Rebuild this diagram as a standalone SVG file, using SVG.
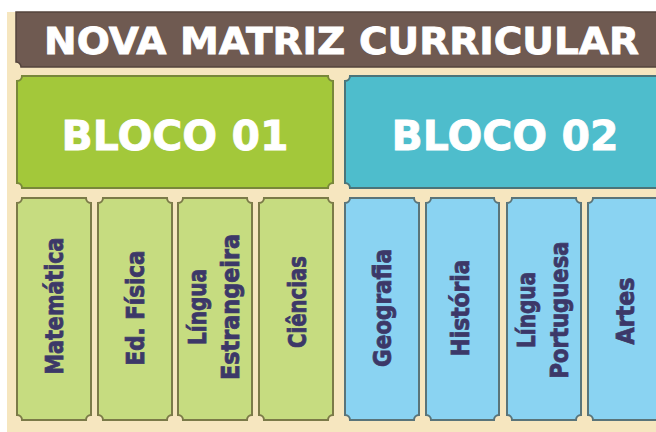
<svg xmlns="http://www.w3.org/2000/svg" width="656" height="432" viewBox="0 0 656 432">
<style>
.bg{fill:#f6e6bf}
.title{fill:#6f5a51;stroke:#54443c;stroke-width:1.5}
.b1{fill:#a3c83a;stroke:#78873a;stroke-width:2}
.b2{fill:#4ebdcc;stroke:#4b7479;stroke-width:2}
.s1{fill:#c6dc80;stroke:#7b7a48;stroke-width:2}
.s2{fill:#8ad3f2;stroke:#5a7479;stroke-width:2}
.tt{fill:#ffffff;stroke:#ffffff;stroke-width:0.8;font-family:"DejaVu Sans",sans-serif;font-weight:bold;font-size:37px}
.bt{fill:#ffffff;stroke:#ffffff;stroke-width:0.8;font-family:"DejaVu Sans",sans-serif;font-weight:bold;font-size:41px;text-anchor:middle}
.st{fill:#3c3868;stroke:#3c3868;stroke-width:0.8;font-family:"DejaVu Sans",sans-serif;font-weight:bold;font-size:24px;text-anchor:middle}
</style>
<rect x="0" y="0" width="656" height="432" fill="#ffffff"/>
<rect class="bg" x="7" y="12" width="649" height="420"/>
<g id="titulo">
<path class="title" d="M16,12 H670 V67 H21 A5 5 0 0 0 16,62 Z"/>
<text class="tt" x="44" y="54" textLength="595" lengthAdjust="spacingAndGlyphs">NOVA MATRIZ CURRICULAR</text>
</g>
<g id="bloco01">
<path class="b1" d="M22,76 H328 A5 5 0 0 0 333,81 V183 A5 5 0 0 0 328,188 H22 A5 5 0 0 0 17,183 V81 A5 5 0 0 0 22,76 Z"/>
<text class="bt" x="175" y="150">BLOCO 01</text>
</g>
<g id="bloco02">
<path class="b2" d="M350,76 H660 A5 5 0 0 0 665,81 V183 A5 5 0 0 0 660,188 H350 A5 5 0 0 0 345,183 V81 A5 5 0 0 0 350,76 Z"/>
<text class="bt" x="505" y="150">BLOCO 02</text>
</g>
<g id="matematica">
<path class="s1" d="M22,198 H86 A5 5 0 0 0 91,203 V415 A5 5 0 0 0 86,420 H22 A5 5 0 0 0 17,415 V203 A5 5 0 0 0 22,198 Z"/>
<text class="st" transform="translate(54,306) rotate(-90)" x="0" y="9" textLength="137" lengthAdjust="spacingAndGlyphs">Matemática</text>
</g>
<g id="edfisica">
<path class="s1" d="M103,198 H167 A5 5 0 0 0 172,203 V415 A5 5 0 0 0 167,420 H103 A5 5 0 0 0 98,415 V203 A5 5 0 0 0 103,198 Z"/>
<text class="st" transform="translate(135,308) rotate(-90)" x="0" y="9" textLength="115" lengthAdjust="spacingAndGlyphs">Ed. Física</text>
</g>
<g id="lingua-estrangeira">
<path class="s1" d="M183,198 H247 A5 5 0 0 0 252,203 V415 A5 5 0 0 0 247,420 H183 A5 5 0 0 0 178,415 V203 A5 5 0 0 0 183,198 Z"/>
<text class="st" transform="translate(215,307) rotate(-90)"><tspan x="0" y="-9" textLength="76" lengthAdjust="spacingAndGlyphs">Língua</tspan><tspan x="0" y="24" textLength="146" lengthAdjust="spacingAndGlyphs">Estrangeira</tspan></text>
</g>
<g id="ciencias">
<path class="s1" d="M264,198 H328 A5 5 0 0 0 333,203 V415 A5 5 0 0 0 328,420 H264 A5 5 0 0 0 259,415 V203 A5 5 0 0 0 264,198 Z"/>
<text class="st" transform="translate(297,302) rotate(-90)" x="0" y="9" textLength="92" lengthAdjust="spacingAndGlyphs">Ciências</text>
</g>
<g id="geografia">
<path class="s2" d="M350,198 H414 A5 5 0 0 0 419,203 V415 A5 5 0 0 0 414,420 H350 A5 5 0 0 0 345,415 V203 A5 5 0 0 0 350,198 Z"/>
<text class="st" transform="translate(382,308) rotate(-90)" x="0" y="9" textLength="118" lengthAdjust="spacingAndGlyphs">Geografia</text>
</g>
<g id="historia">
<path class="s2" d="M431,198 H494 A5 5 0 0 0 499,203 V415 A5 5 0 0 0 494,420 H431 A5 5 0 0 0 426,415 V203 A5 5 0 0 0 431,198 Z"/>
<text class="st" transform="translate(460,308) rotate(-90)" x="0" y="9" textLength="97" lengthAdjust="spacingAndGlyphs">História</text>
</g>
<g id="lingua-portuguesa">
<path class="s2" d="M512,198 H576 A5 5 0 0 0 581,203 V415 A5 5 0 0 0 576,420 H512 A5 5 0 0 0 507,415 V203 A5 5 0 0 0 512,198 Z"/>
<text class="st" transform="translate(544,310) rotate(-90)"><tspan x="0" y="-9" textLength="76" lengthAdjust="spacingAndGlyphs">Língua</tspan><tspan x="0" y="24" textLength="137" lengthAdjust="spacingAndGlyphs">Portuguesa</tspan></text>
</g>
<g id="artes">
<path class="s2" d="M593,198 H657 A5 5 0 0 0 662,203 V415 A5 5 0 0 0 657,420 H593 A5 5 0 0 0 588,415 V203 A5 5 0 0 0 593,198 Z"/>
<text class="st" transform="translate(625,311) rotate(-90)" x="0" y="9" textLength="67" lengthAdjust="spacingAndGlyphs">Artes</text>
</g>
<g id="connectors"/>
</svg>
